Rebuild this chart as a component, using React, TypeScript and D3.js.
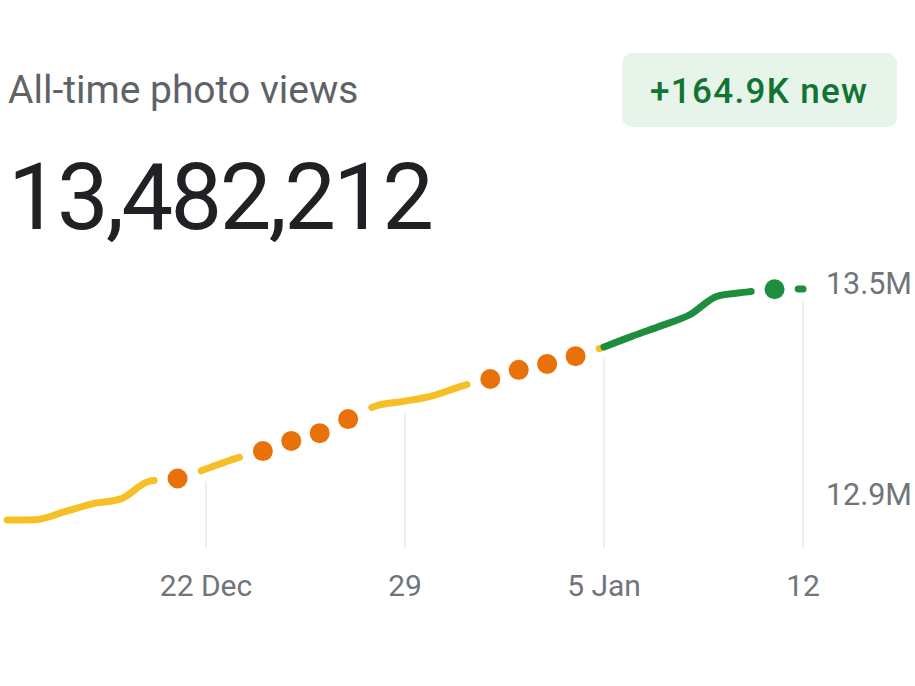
import React, { useEffect, useRef } from "react";
import * as d3 from "d3";

// ---- Data ----
const DATES = [
  "2024-12-15", "2024-12-16", "2024-12-17", "2024-12-18", "2024-12-19", "2024-12-20",
  "2024-12-21", "2024-12-22", "2024-12-23", "2024-12-24", "2024-12-25", "2024-12-26",
  "2024-12-27", "2024-12-28", "2024-12-29", "2024-12-30", "2024-12-31", "2025-01-01",
  "2025-01-02", "2025-01-03", "2025-01-04", "2025-01-05", "2025-01-06", "2025-01-07",
  "2025-01-08", "2025-01-09", "2025-01-10", "2025-01-11", "2025-01-12",
];
const VIEWS = [
  12826000, 12827000, 12849000, 12872000, 12886000, 12936000,
  12944000, 12971000, 13000000, 13022000, 13051000, 13073000,
  13113000, 13151000, 13164000, 13180000, 13207000, 13227000,
  13253000, 13270000, 13292000, 13318000, 13349000, 13378000,
  13409000, 13463000, 13474000, 13482212, 13483000,
];
const MARKED_DATES = [
  "2024-12-21", "2024-12-24", "2024-12-25", "2024-12-26", "2024-12-27",
  "2025-01-01", "2025-01-02", "2025-01-03", "2025-01-04", "2025-01-11",
];
const RECENT_START = "2025-01-05";
const X_TICKS = ["2024-12-22", "2024-12-29", "2025-01-05", "2025-01-12"];
const X_TICK_LABELS = ["22 Dec", "29", "5 Jan", "12"];
const Y_TICKS = [12900000, 13500000];
const Y_TICK_LABELS = ["12.9M", "13.5M"];
const TITLE = "All-time photo views";
const TOTAL_LABEL = "13,482,212";
const BADGE_LABEL = "+164.9K new";

const parse = d3.utcParse("%Y-%m-%d");

type Pt = { date: Date; v: number; marked: boolean };

const FONT = "Roboto, 'Noto Sans', sans-serif";
const YELLOW = "#f6bf26";
const ORANGE = "#e8710a";
const GREEN = "#1e8e3e";
const GAP = 20; // visible gap between dot centre and line end
const LW = 7;

export default function App() {
  const yellowRef = useRef<SVGPathElement>(null);
  const greenRef = useRef<SVGPathElement>(null);

  const data: Pt[] = DATES.map((d, i) => ({
    date: parse(d) as Date,
    v: VIEWS[i],
    marked: MARKED_DATES.includes(d),
  }));
  const recent = parse(RECENT_START) as Date;

  const x = d3
    .scaleUtc()
    .domain([parse(DATES[0]) as Date, parse(DATES[DATES.length - 1]) as Date])
    .range([7, 803]);
  const y = d3.scaleLinear().domain([12900000, 13500000]).range([494, 283]);

  const line = d3
    .line<Pt>()
    .x((d) => x(d.date))
    .y((d) => y(d.v))
    .curve(d3.curveMonotoneX);

  const yellowPts = data.filter((d) => d.date <= recent);
  const greenPts = data.filter((d) => d.date >= recent);
  const dots = data.filter((d) => d.marked);

  const keptRanges = (pts: Pt[]) => {
    let ranges: [number, number][] = [[x(pts[0].date), x(pts[pts.length - 1].date)]];
    dots.forEach((d) => {
      const cx = x(d.date);
      const a = cx - GAP - LW / 2;
      const b = cx + GAP + LW / 2;
      const next: [number, number][] = [];
      ranges.forEach(([r0, r1]) => {
        if (b <= r0 || a >= r1) {
          next.push([r0, r1]);
        } else {
          if (a > r0) next.push([r0, a]);
          if (b < r1) next.push([b, r1]);
        }
      });
      ranges = next;
    });
    return ranges;
  };

  useEffect(() => {
    const apply = (el: SVGPathElement | null, ranges: [number, number][]) => {
      if (!el) return;
      if (!ranges.length) {
        el.setAttribute("visibility", "hidden");
        return;
      }
      const total = el.getTotalLength();
      const Lx = (tx: number) => {
        let lo = 0,
          hi = total;
        for (let k = 0; k < 40; k++) {
          const mid = (lo + hi) / 2;
          if (el.getPointAtLength(mid).x < tx) lo = mid;
          else hi = mid;
        }
        return (lo + hi) / 2;
      };
      const segs = ranges.map(([a, b]) => [Lx(a), Lx(b)]);
      const arr: number[] = [];
      segs.forEach(([a, b], i) => {
        arr.push(Math.max(0.01, b - a));
        const nx = segs[i + 1];
        arr.push(nx ? nx[0] - b : total * 2 + 100);
      });
      el.setAttribute("stroke-dasharray", arr.join(" "));
      el.setAttribute("stroke-dashoffset", String(-segs[0][0]));
    };
    apply(yellowRef.current, keptRanges(yellowPts));
    apply(greenRef.current, keptRanges(greenPts));
  });

  const valueAt = (ds: string) => {
    const i = DATES.indexOf(ds);
    return VIEWS[i];
  };

  return (
    <svg
      width={915}
      height={686}
      style={{ position: "absolute", left: 0, top: 0, background: "#ffffff" }}
      fontFamily={FONT}
    >
      <rect x={0} y={0} width={915} height={686} fill="#ffffff" />

      {/* Header */}
      <text x={8} y={103} fontSize={39} fill="#5f6368">
        {TITLE}
      </text>
      <text
        x={8}
        y={229}
        fontSize={92}
        fill="#202124"
        textLength={426}
        lengthAdjust="spacing"
      >
        {TOTAL_LABEL}
      </text>
      <rect x={622} y={53} width={275} height={74} rx={10} fill="#e6f4ea" />
      <text
        x={650}
        y={103}
        fontSize={35}
        fontWeight={500}
        fill="#137333"
        textLength={217}
        lengthAdjust="spacing"
      >
        {BADGE_LABEL}
      </text>

      {/* Vertical grid lines */}
      {X_TICKS.map((t) => {
        const px = x(parse(t) as Date);
        return (
          <line
            key={"g" + t}
            x1={px}
            x2={px}
            y1={y(valueAt(t)) + 12}
            y2={548}
            stroke="#e8e8e8"
            strokeWidth={1.5}
          />
        );
      })}

      {/* X tick labels */}
      {X_TICKS.map((t, i) => (
        <text
          key={"x" + t}
          x={x(parse(t) as Date)}
          y={596}
          fontSize={30}
          fill="#70757a"
          textAnchor="middle"
        >
          {X_TICK_LABELS[i]}
        </text>
      ))}

      {/* Y tick labels */}
      {Y_TICKS.map((v, i) => (
        <text
          key={"y" + v}
          x={912}
          y={y(v) + 10.5}
          fontSize={30.5}
          fill="#70757a"
          textAnchor="end"
        >
          {Y_TICK_LABELS[i]}
        </text>
      ))}

      {/* Lines */}
      <path
        ref={yellowRef}
        d={line(yellowPts) || ""}
        fill="none"
        stroke={YELLOW}
        strokeWidth={LW}
        strokeLinecap="round"
        strokeLinejoin="round"
      />
      <path
        ref={greenRef}
        d={line(greenPts) || ""}
        fill="none"
        stroke={GREEN}
        strokeWidth={LW}
        strokeLinecap="round"
        strokeLinejoin="round"
      />

      {/* Dots */}
      {dots.map((d) => (
        <circle
          key={"d" + d.date.toISOString()}
          cx={x(d.date)}
          cy={y(d.v)}
          r={10}
          fill={d.date >= recent ? GREEN : ORANGE}
        />
      ))}
    </svg>
  );
}
